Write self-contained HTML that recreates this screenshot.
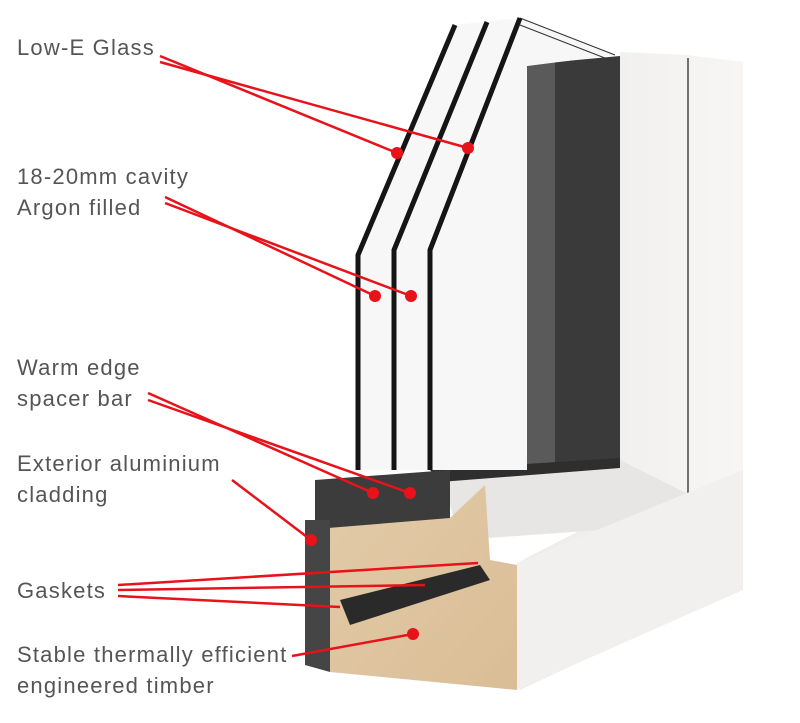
<!DOCTYPE html>
<html><head><style>
body{margin:0;background:#fff;width:800px;height:723px;overflow:hidden}
.l{position:absolute;left:17px;font:22px "Liberation Sans",sans-serif;letter-spacing:1.2px;color:#555;line-height:31px;white-space:nowrap}
</style></head><body>
<svg width="800" height="723" style="position:absolute;left:0;top:0">
<defs>
<linearGradient id="w" x1="0" y1="0" x2="1" y2="0"><stop offset="0" stop-color="#ecebea"/><stop offset="1" stop-color="#f7f6f5"/></linearGradient>
<linearGradient id="wood" x1="0" y1="0" x2="1" y2="1"><stop offset="0" stop-color="#e3cba8"/><stop offset="1" stop-color="#d9bd96"/></linearGradient>
</defs>
<polygon points="620,52 687,55 743,62 743,590 700,605 520,690 517,563 600,520 620,460" fill="url(#w)"/>
<line x1="688" y1="58" x2="688" y2="515" stroke="#444" stroke-width="1.5"/>
<polygon points="440,470 620,460 700,500 690,520 600,530 460,540" fill="#e7e6e4"/>
<polygon points="517,563 743,470 743,590 517,690" fill="#f1f0ef"/>
<polygon points="527,66 555,62 555,470 527,470" fill="#5a5a5a"/>
<polygon points="555,62 620,56 620,462 555,470" fill="#3a3a3a"/>
<polygon points="430,470 620,458 620,468 440,482" fill="#2e2e2e"/>
<polygon points="455,25 520,18 615,55 527,66 527,470 358,470 358,255" fill="#f7f7f7"/>
<polyline points="520,18 615,55" stroke="#333" fill="none"/>
<polyline points="520,25 610,60" stroke="#333" fill="none"/>
<polyline points="455,25 358,255 358,470" stroke="#151515" stroke-width="5" fill="none"/>
<polyline points="487,22 394,250 394,470" stroke="#151515" stroke-width="5" fill="none"/>
<polyline points="520,18 430,250 430,470" stroke="#151515" stroke-width="5" fill="none"/>
<polygon points="315,480 450,470 450,520 330,530 315,530" fill="#3c3c3c"/>
<polygon points="328,528 450,518 485,485 490,560 517,565 517,690 330,672" fill="url(#wood)"/>
<polygon points="305,520 330,520 330,672 305,665" fill="#454545"/>
<polygon points="340,600 480,565 490,580 350,625" fill="#2a2a2a"/>
<g stroke="#e8121a" stroke-width="2.5" fill="none">
<line x1="160" y1="56" x2="397" y2="153"/><line x1="160" y1="62" x2="468" y2="148"/>
<line x1="165" y1="197" x2="375" y2="296"/><line x1="165" y1="203" x2="411" y2="296"/>
<line x1="148" y1="393" x2="373" y2="493"/><line x1="148" y1="400" x2="410" y2="493"/>
<line x1="232" y1="480" x2="311" y2="540"/>
<line x1="118" y1="585" x2="478" y2="563"/><line x1="118" y1="590" x2="425" y2="585"/><line x1="118" y1="596" x2="340" y2="607"/>
<line x1="292" y1="656" x2="413" y2="634"/>
</g>
<g fill="#e8121a">
<circle cx="397" cy="153" r="6"/><circle cx="468" cy="148" r="6"/>
<circle cx="375" cy="296" r="6"/><circle cx="411" cy="296" r="6"/>
<circle cx="373" cy="493" r="6"/><circle cx="410" cy="493" r="6"/>
<circle cx="311" cy="540" r="6"/><circle cx="413" cy="634" r="6"/>
</g>
</svg>
<div class="l" style="top:32px">Low-E Glass</div>
<div class="l" style="top:161px">18-20mm cavity<br>Argon filled</div>
<div class="l" style="top:352px">Warm edge<br>spacer bar</div>
<div class="l" style="top:448px">Exterior aluminium<br>cladding</div>
<div class="l" style="top:575px">Gaskets</div>
<div class="l" style="top:639px">Stable thermally efficient<br>engineered timber</div>
</body></html>
